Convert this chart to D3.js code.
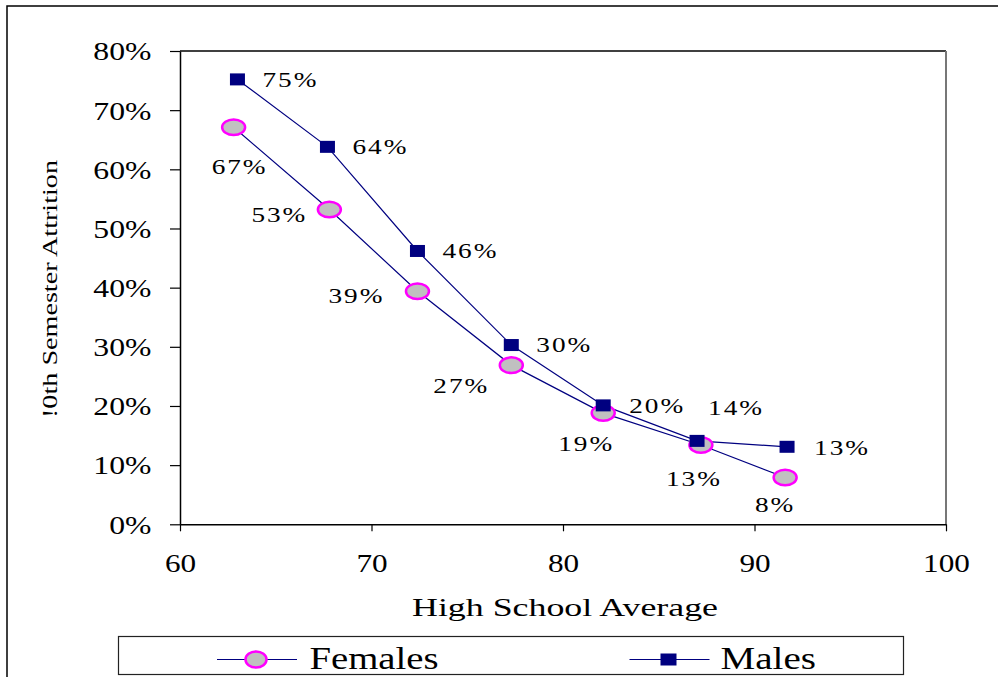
<!DOCTYPE html>
<html>
<head>
<meta charset="utf-8">
<script src="https://cdn.jsdelivr.net/npm/d3@7"></script>
<style>
  html, body { margin: 0; padding: 0; background: #fff; }
  svg { display: block; }
  text { font-family: "Liberation Serif", "Times New Roman", serif; fill: #000; }
</style>
</head>
<body>
<svg id="chart" width="998" height="677"></svg>
<script>
// High school average (x) for each group
const femaleAverage = [62.8, 67.8, 72.4, 77.3, 82.1, 87.2, 91.6];
const maleAverage   = [63.0, 67.7, 72.4, 77.3, 82.1, 87.0, 91.7];
// 10th semester attrition rates
const femaleAttrition = [0.671, 0.532, 0.394, 0.269, 0.188, 0.134, 0.079];
const maleAttrition   = [0.752, 0.638, 0.462, 0.303, 0.201, 0.141, 0.131];
// Axis ticks
const xTicks = [60, 70, 80, 90, 100];
const yTicks = [0, 0.1, 0.2, 0.3, 0.4, 0.5, 0.6, 0.7, 0.8];
const seriesNames = ["Females", "Males"];

// Label nudges (pixels from the marker) so the values don't collide with the lines
const femaleLabelNudge = [[6, 40], [-50, 5], [-61, 5], [-50, 21], [-17, 31], [-7, 34], [-10, 27]];
const maleLabelNudge   = [[25, 0], [25, 0], [25, 0], [25, 0], [26, 0], [11, -33], [27, 1]];

const svg = d3.select("#chart");
const navy = "#000080";
const pct = d3.format(".0%");

const x = d3.scaleLinear().domain([60, 100]).range([180, 946]);
const y = d3.scaleLinear().domain([0, 0.8]).range([524.3, 51]);

// Outer frame
svg.append("rect").attr("x", 7).attr("y", 6).attr("width", 1000).attr("height", 700)
  .attr("fill", "none").attr("stroke", "#000").attr("stroke-width", 1.5);

// Plot frame: top and right edges
svg.append("line").attr("x1", x(60)).attr("x2", x(100)).attr("y1", y(0.8)).attr("y2", y(0.8))
  .attr("stroke", "#000").attr("stroke-width", 1.5);
svg.append("line").attr("x1", x(100)).attr("x2", x(100)).attr("y1", y(0.8)).attr("y2", y(0))
  .attr("stroke", "#777").attr("stroke-width", 2);

// Y axis
const yAxis = svg.append("g").attr("transform", `translate(${x(60)},0)`)
  .call(d3.axisLeft(y).tickValues(yTicks).tickFormat(pct).tickSize(10).tickSizeOuter(0));
yAxis.select(".domain").attr("stroke", "#000").attr("stroke-width", 1.5);
yAxis.selectAll(".tick line").attr("stroke", "#000").attr("stroke-width", 1.2);
yAxis.selectAll(".tick text")
  .attr("x", 0).attr("dy", "0.34em")
  .attr("transform", "translate(-28.5,0) scale(1.22,1)")
  .style("font-size", "26px").attr("text-anchor", "end");

// X axis
const xAxis = svg.append("g").attr("transform", `translate(0,${y(0)})`)
  .call(d3.axisBottom(x).tickValues(xTicks).tickSize(7).tickSizeOuter(0));
xAxis.select(".domain").attr("stroke", "#000").attr("stroke-width", 1.5);
xAxis.selectAll(".tick line").attr("stroke", "#000").attr("stroke-width", 1.2);
xAxis.selectAll(".tick text")
  .attr("y", 0).attr("dy", 0)
  .attr("transform", "translate(0,47.5) scale(1.2,1)")
  .style("font-size", "26px").attr("text-anchor", "middle");

// Axis titles
svg.append("text").attr("x", 565).attr("y", 615.5).attr("text-anchor", "middle")
  .style("font-size", "26px").attr("textLength", 306).attr("lengthAdjust", "spacingAndGlyphs")
  .text("High School Average");
svg.append("text").attr("transform", "translate(57,289) rotate(-90)").attr("text-anchor", "middle")
  .style("font-size", "22px").attr("textLength", 258).attr("lengthAdjust", "spacingAndGlyphs")
  .text("!0th Semester Attrition");

const females = femaleAverage.map((v, i) => ({ x: v, y: femaleAttrition[i], n: femaleLabelNudge[i] }));
const males = maleAverage.map((v, i) => ({ x: v, y: maleAttrition[i], n: maleLabelNudge[i] }));

const line = d3.line().x(d => x(d.x)).y(d => y(d.y));

svg.append("path").datum(females).attr("d", line)
  .attr("fill", "none").attr("stroke", navy).attr("stroke-width", 1.2);
svg.append("path").datum(males).attr("d", line)
  .attr("fill", "none").attr("stroke", navy).attr("stroke-width", 1.2);

// Female markers: grey ellipses with magenta rims
svg.append("g").selectAll("ellipse").data(females).join("ellipse")
  .attr("cx", d => x(d.x)).attr("cy", d => y(d.y))
  .attr("rx", 11.5).attr("ry", 7.8)
  .attr("fill", "#c0c0c0").attr("stroke", "#ff00ff").attr("stroke-width", 2.5);

// Male markers: navy squares
svg.append("g").selectAll("rect").data(males).join("rect")
  .attr("x", d => x(d.x) - 7.5).attr("y", d => y(d.y) - 6)
  .attr("width", 15).attr("height", 12).attr("fill", navy);

// Value labels
function valueLabels(data, anchor) {
  svg.append("g").selectAll("text").data(data).join("text")
    .attr("transform", d => `translate(${x(d.x) + d.n[0]},${y(d.y) + d.n[1]}) scale(1.3,1)`)
    .attr("dy", "0.34em")
    .attr("text-anchor", anchor)
    .style("font-size", "21px").style("letter-spacing", "1.5px")
    .text(d => pct(d.y));
}
valueLabels(females, "middle");
valueLabels(males, "start");

// Legend
const legend = svg.append("g");
legend.append("rect").attr("x", 118.5).attr("y", 636.5).attr("width", 785).attr("height", 38)
  .attr("fill", "#fff").attr("stroke", "#222").attr("stroke-width", 1.2);

const fl = legend.append("g");
fl.append("line").attr("x1", 217).attr("x2", 297).attr("y1", 659.5).attr("y2", 659.5)
  .attr("stroke", navy).attr("stroke-width", 1.2);
fl.append("ellipse").attr("cx", 256).attr("cy", 659.5).attr("rx", 10.5).attr("ry", 8)
  .attr("fill", "#c0c0c0").attr("stroke", "#ff00ff").attr("stroke-width", 2.5);
fl.append("text").attr("transform", "translate(309.5,669) scale(1.25,1)")
  .style("font-size", "31px").text(seriesNames[0]);

const ml = legend.append("g");
ml.append("line").attr("x1", 629.5).attr("x2", 709.5).attr("y1", 659.5).attr("y2", 659.5)
  .attr("stroke", navy).attr("stroke-width", 1.2);
ml.append("rect").attr("x", 660.5).attr("y", 653.5).attr("width", 16).attr("height", 12)
  .attr("fill", navy);
ml.append("text").attr("transform", "translate(720.5,669) scale(1.26,1)")
  .style("font-size", "31px").text(seriesNames[1]);
</script>
</body>
</html>
